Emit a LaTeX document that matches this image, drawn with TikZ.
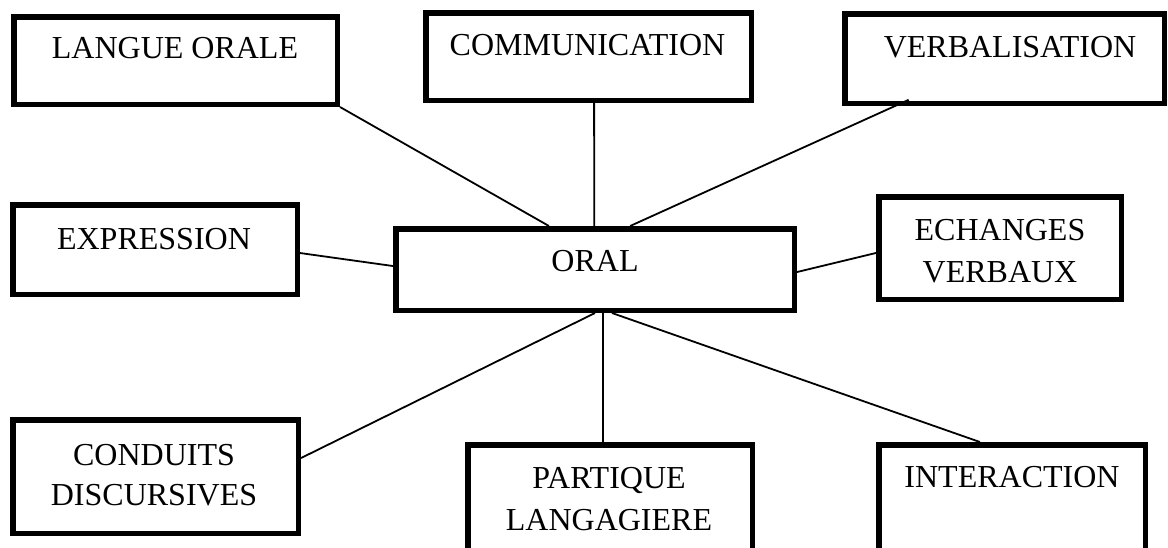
\documentclass[tikz,border=0pt]{standalone}
\usepackage{fontspec}
\setmainfont{Liberation Serif}
\usetikzlibrary{calc}
\begin{document}
\begin{tikzpicture}[x=1pt,y=-1pt,
  bx/.style={draw=black, line width=5.5pt, rectangle, inner sep=0pt},
  lbl/.style={anchor=base, inner sep=0pt, align=center, font=\fontsize{32}{42}\selectfont},
  link/.style={draw=black, line width=1.8pt}]
\useasboundingbox (0,0) rectangle (1168,547);
\clip (0,0) rectangle (1168,547);
% boxes
\node[bx, minimum width=323.5pt, minimum height=87.5pt] (lo) at (175.5,60.5) {};
\node[bx, minimum width=325.5pt, minimum height=87.5pt] (com) at (588.5,56.5) {};
\node[bx, minimum width=319.5pt, minimum height=89.5pt] (ver) at (1004.5,58.5) {};
\node[bx, minimum width=284.5pt, minimum height=89.5pt] (exp) at (155,249.5) {};
\node[bx, minimum width=398.5pt, minimum height=81.5pt] (oral) at (595,269.5) {};
\node[bx, minimum width=242.5pt, minimum height=102.5pt] (ech) at (1000,248) {};
\node[bx, minimum width=285.5pt, minimum height=113.5pt] (con) at (155.5,476.5) {};
\node[bx, minimum width=284.5pt, minimum height=112.5pt] (par) at (610,501) {};
\node[bx, minimum width=266.5pt, minimum height=112.5pt] (int) at (1012,501) {};
% texts (multi-line texts are placed by the baseline of their last line)
\node[lbl] (tlo) at (175,58) {LANGUE ORALE};
\node[lbl] (tcom) at (587.5,55) {COMMUNICATION};
\node[lbl] (tver) at (1010,57) {VERBALISATION};
\node[lbl] (texp) at (154,249) {EXPRESSION};
\node[lbl] (toral) at (595,271) {ORAL};
\node[lbl] (tech) at (1000,282) {ECHANGES\\VERBAUX};
\node[lbl, font=\fontsize{32}{40}\selectfont] (tcon) at (154,505) {CONDUITS\\DISCURSIVES};
\node[lbl] (tpar) at (609,530) {PARTIQUE\\LANGAGIERE};
\node[lbl] (tint) at (1012,487) {INTERACTION};
% connectors
\draw[link] (lo.south east) -- ($(oral.north west)!0.386!(oral.north east)$);
\draw[link] ($(com.south west)!0.517!(com.south east)$) -- ($(oral.north west)!0.498!(oral.north east)$);
\draw[link, shorten <=-15pt] ($(ver.south west)!0.163!(ver.south east)$) -- ($(oral.north west)!0.587!(oral.north east)$);
\draw[link] ($(exp.north east)!0.537!(exp.south east)$) -- ($(oral.north west)!0.46!(oral.south west)$);
\draw[link] ($(oral.north east)!0.529!(oral.south east)$) -- ($(ech.north west)!0.546!(ech.south west)$);
\draw[link] ($(oral.south west)!0.5!(oral.south east)$) -- ($(con.north east)!0.345!(con.south east)$);
\draw[link] ($(oral.south west)!0.52!(oral.south east)$) -- ($(par.north west)!0.476!(par.north east)$);
\draw[link] ($(oral.south west)!0.542!(oral.south east)$) -- ($(int.north west)!0.382!(int.north east)$);
\end{tikzpicture}
\end{document}
